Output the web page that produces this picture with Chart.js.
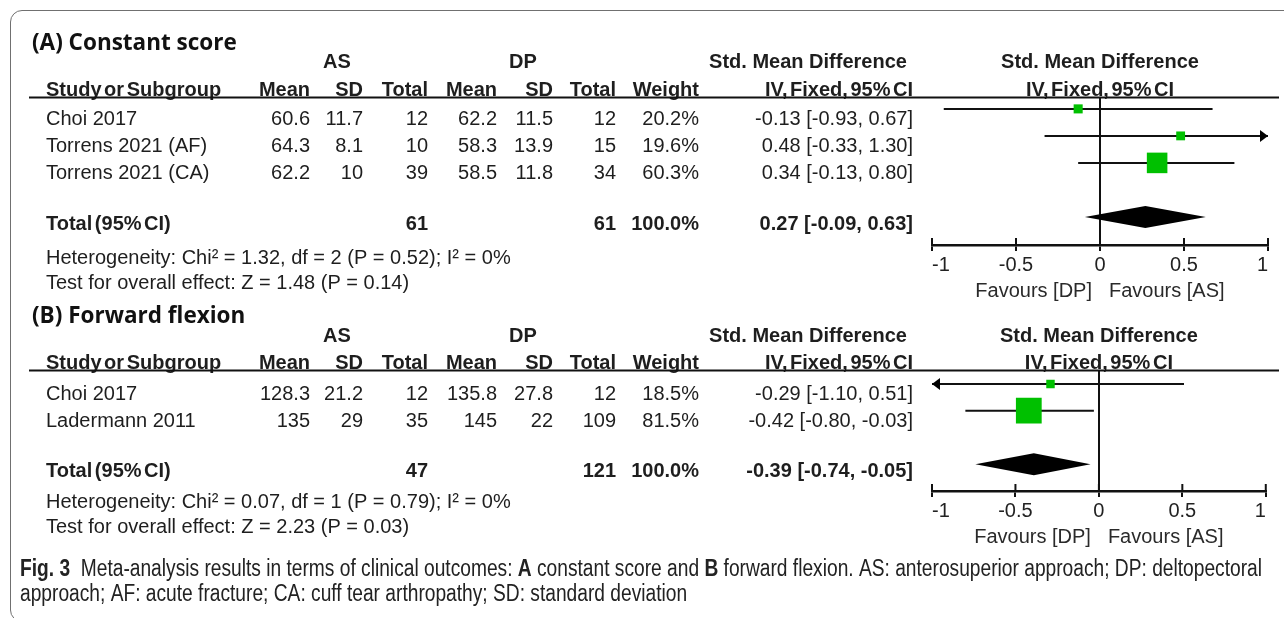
<!DOCTYPE html>
<html>
<head>
<meta charset="utf-8">
<title>Forest plots: constant score and forward flexion</title>
<script src="https://cdn.jsdelivr.net/npm/chart.js@4.4.1/dist/chart.umd.min.js"></script>
<style>
  html, body { margin: 0; padding: 0; background: #ffffff; }
  body { width: 1284px; height: 618px; position: relative; overflow: hidden; }
  #frame {
    position: absolute; left: 10px; top: 10px; width: 1330px; height: 612px;
    border: 1.5px solid #707070; border-radius: 12px; box-sizing: border-box;
  }
  canvas { position: absolute; left: 0; }
  #plotA { top: 0; }
  #plotB { top: 305px; }
</style>
</head>
<body>
<div id="frame"></div>
<canvas id="plotA" width="1284" height="310"></canvas>
<canvas id="plotB" width="1284" height="313"></canvas>
<script>
// ---------- (A) Constant score ----------
const studiesA  = ['Choi 2017', 'Torrens 2021 (AF)', 'Torrens 2021 (CA)'];
const asMeanA   = [60.6, 64.3, 62.2];
const asSdA     = [11.7, 8.1, 10];
const asTotalA  = [12, 10, 39];
const dpMeanA   = [62.2, 58.3, 58.5];
const dpSdA     = [11.5, 13.9, 11.8];
const dpTotalA  = [12, 15, 34];
const weightA   = [20.2, 19.6, 60.3];
const smdA      = [-0.13, 0.48, 0.34];
const lowerA    = [-0.93, -0.33, -0.13];
const upperA    = [0.67, 1.30, 0.80];
const totalsA   = [61, 61, 100.0];       // AS total, DP total, weight %
const pooledA   = [0.27, -0.09, 0.63];   // estimate, lower, upper
const hetA      = 'Heterogeneity: Chi\u00B2 = 1.32, df = 2 (P = 0.52); I\u00B2 = 0%';
const testA     = 'Test for overall effect: Z = 1.48 (P = 0.14)';

// ---------- (B) Forward flexion ----------
const studiesB  = ['Choi 2017', 'Ladermann 2011'];
const asMeanB   = [128.3, 135];
const asSdB     = [21.2, 29];
const asTotalB  = [12, 35];
const dpMeanB   = [135.8, 145];
const dpSdB     = [27.8, 22];
const dpTotalB  = [12, 109];
const weightB   = [18.5, 81.5];
const smdB      = [-0.29, -0.42];
const lowerB    = [-1.10, -0.80];
const upperB    = [0.51, -0.03];
const totalsB   = [47, 121, 100.0];
const pooledB   = [-0.39, -0.74, -0.05];
const hetB      = 'Heterogeneity: Chi\u00B2 = 0.07, df = 1 (P = 0.79); I\u00B2 = 0%';
const testB     = 'Test for overall effect: Z = 2.23 (P = 0.03)';

// shared axis ticks
const smdTicks = [-1, -0.5, 0, 0.5, 1];

// caption text (bold flag per run)
const captionLine1 = [
  ['Fig. 3', true], ['  Meta-analysis results in terms of clinical outcomes: ', false],
  ['A', true], [' constant score and ', false], ['B', true],
  [' forward flexion. AS: anterosuperior approach; DP: deltopectoral', false]
];
const captionLine2 = [
  ['approach; AF: acute fracture; CA: cuff tear arthropathy; SD: standard deviation', false]
];

// ---------- styling ----------
const FAMILY = '"Liberation Sans", Arial, sans-serif';
const INK = '#1e1e1e';
const REG = '20px ' + FAMILY;
const BOLD = 'bold 20px ' + FAMILY;
const TITLE = 'bold 22.5px "Open Sans", "Liberation Sans", sans-serif';
const GREEN = '#00c000';

Chart.defaults.font.family = FAMILY;
Chart.defaults.color = '#222';

// right edges of the numeric columns, left edge of the study names
const cols = { name: 46, asMean: 310, asSd: 363, asTotal: 428, dpMean: 497, dpSd: 553,
               dpTotal: 616, weight: 699, ci: 913 };

function fmtCI(e, lo, hi) {
  return e.toFixed(2) + ' [' + lo.toFixed(2) + ', ' + hi.toFixed(2) + ']';
}

// layout of each panel (page coordinates)
const panelA = {
  canvas: 'plotA', top: 0, height: 310, plotTop: 97, plotBottom: 245, yMin: -0.44, yMax: 5.04,
  title: '(A) Constant score', titleY: 50, groupY: 68, headY: 96, ruleY: 97.5, hetY: 264, testY: 289,
  studies: studiesA, asMean: asMeanA, asSd: asSdA, asTotal: asTotalA, dpMean: dpMeanA, dpSd: dpSdA,
  dpTotal: dpTotalA, weight: weightA, smd: smdA, lower: lowerA, upper: upperA,
  totals: totalsA, pooled: pooledA, het: hetA, test: testA, caption: false
};
const panelB = {
  canvas: 'plotB', top: 305, height: 313, plotTop: 370, plotBottom: 491, yMin: -0.52, yMax: 4.0,
  title: '(B) Forward flexion', titleY: 323, groupY: 342, headY: 369, ruleY: 370.5, hetY: 508, testY: 533,
  studies: studiesB, asMean: asMeanB, asSd: asSdB, asTotal: asTotalB, dpMean: dpMeanB, dpSd: dpSdB,
  dpTotal: dpTotalB, weight: weightB, smd: smdB, lower: lowerB, upper: upperB,
  totals: totalsB, pooled: pooledB, het: hetB, test: testB, caption: true
};

// table text, pooled diamond, arrows, tick marks and axis labels
function forestDecor(p) {
  return {
    id: 'forestDecor',
    afterDatasetsDraw(chart) {
      const ctx = chart.ctx, X = chart.scales.x, Y = chart.scales.y;
      const xMin = X.min, xMax = X.max;
      ctx.save();
      ctx.fillStyle = '#000';
      // pooled estimate diamond
      const n = p.studies.length;
      const dy = Y.getPixelForValue(n + 1);
      const half = 11;
      ctx.beginPath();
      ctx.moveTo(X.getPixelForValue(p.pooled[1]), dy);
      ctx.lineTo(X.getPixelForValue(p.pooled[0]), dy - half);
      ctx.lineTo(X.getPixelForValue(p.pooled[2]), dy);
      ctx.lineTo(X.getPixelForValue(p.pooled[0]), dy + half);
      ctx.closePath();
      ctx.fill();
      // arrowheads where an interval runs off the axis
      p.studies.forEach((_, i) => {
        const y = Y.getPixelForValue(i);
        if (p.upper[i] > xMax) {
          const t = X.getPixelForValue(xMax);
          ctx.beginPath(); ctx.moveTo(t, y); ctx.lineTo(t - 8, y - 6); ctx.lineTo(t - 8, y + 6); ctx.closePath(); ctx.fill();
        }
        if (p.lower[i] < xMin) {
          const t = X.getPixelForValue(xMin);
          ctx.beginPath(); ctx.moveTo(t, y); ctx.lineTo(t + 8, y - 6); ctx.lineTo(t + 8, y + 6); ctx.closePath(); ctx.fill();
        }
      });
      ctx.restore();
    },
    afterDraw(chart) {
      const ctx = chart.ctx, X = chart.scales.x, Y = chart.scales.y;
      const oy = p.top;
      const put = (s, x, y, align, font, color) => {
        ctx.font = font; ctx.textAlign = align; ctx.textBaseline = 'alphabetic';
        ctx.fillStyle = color || INK; ctx.fillText(s, x, y);
      };
      ctx.save();
      // upper half of the axis tick marks
      const axisY = chart.chartArea.bottom;
      ctx.strokeStyle = '#111'; ctx.lineWidth = 2;
      X.ticks.forEach(t => {
        const px = X.getPixelForValue(t.value);
        ctx.beginPath(); ctx.moveTo(px, axisY - 7); ctx.lineTo(px, axisY); ctx.stroke();
      });
      // axis captions either side of zero
      const zero = X.getPixelForValue(0);
      put('Favours [DP]', zero - 8, axisY + 52, 'right', REG, '#2a2a2a');
      put('Favours [AS]', zero + 9, axisY + 52, 'left', REG, '#2a2a2a');

      // panel title and group headers
      put(p.title, 32, p.titleY - oy, 'left', TITLE, '#111');
      put('AS', 337, p.groupY - oy, 'center', BOLD);
      put('DP', 523, p.groupY - oy, 'center', BOLD);
      put('Std. Mean Difference', 808, p.groupY - oy, 'center', BOLD);
      put('Std. Mean Difference', zero, p.groupY - oy, 'center', BOLD);
      ctx.wordSpacing = '-3px';
      const hy = p.headY - oy;
      put('Study or Subgroup', cols.name, hy, 'left', BOLD);
      put('Mean', cols.asMean, hy, 'right', BOLD);
      put('SD', cols.asSd, hy, 'right', BOLD);
      put('Total', cols.asTotal, hy, 'right', BOLD);
      put('Mean', cols.dpMean, hy, 'right', BOLD);
      put('SD', cols.dpSd, hy, 'right', BOLD);
      put('Total', cols.dpTotal, hy, 'right', BOLD);
      put('Weight', cols.weight, hy, 'right', BOLD);
      put('IV, Fixed, 95% CI', cols.ci, hy, 'right', BOLD);
      put('IV, Fixed, 95% CI', zero, hy, 'center', BOLD);
      ctx.wordSpacing = '0px';
      // header rule
      ctx.strokeStyle = '#111'; ctx.lineWidth = 2;
      ctx.beginPath(); ctx.moveTo(29, p.ruleY - oy); ctx.lineTo(1279, p.ruleY - oy); ctx.stroke();

      // study rows
      p.studies.forEach((name, i) => {
        const y = Y.getPixelForValue(i) + 16.5;
        put(name, cols.name, y, 'left', REG);
        put(String(p.asMean[i]), cols.asMean, y, 'right', REG);
        put(String(p.asSd[i]), cols.asSd, y, 'right', REG);
        put(String(p.asTotal[i]), cols.asTotal, y, 'right', REG);
        put(String(p.dpMean[i]), cols.dpMean, y, 'right', REG);
        put(String(p.dpSd[i]), cols.dpSd, y, 'right', REG);
        put(String(p.dpTotal[i]), cols.dpTotal, y, 'right', REG);
        put(p.weight[i].toFixed(1) + '%', cols.weight, y, 'right', REG);
        put(fmtCI(p.smd[i], p.lower[i], p.upper[i]), cols.ci, y, 'right', REG);
      });
      // total row
      const n = p.studies.length;
      const ty = Y.getPixelForValue(n + 1) + 13;
      ctx.wordSpacing = '-3px';
      put('Total (95% CI)', cols.name, ty, 'left', BOLD);
      ctx.wordSpacing = '0px';
      put(String(p.totals[0]), cols.asTotal, ty, 'right', BOLD);
      put(String(p.totals[1]), cols.dpTotal, ty, 'right', BOLD);
      put(p.totals[2].toFixed(1) + '%', cols.weight, ty, 'right', BOLD);
      put(fmtCI(p.pooled[0], p.pooled[1], p.pooled[2]), cols.ci, ty, 'right', BOLD);
      put(p.het, cols.name, p.hetY - oy, 'left', REG);
      put(p.test, cols.name, p.testY - oy, 'left', REG);

      // figure caption
      if (p.caption) {
        const capFont = b => (b ? 'bold ' : '') + '23px ' + FAMILY;
        const widthOf = runs => runs.reduce((w, r) => { ctx.font = capFont(r[1]); return w + ctx.measureText(r[0]).width; }, 0);
        const sx = (1262 - 20) / widthOf(captionLine1);
        const drawLine = (runs, yPage) => {
          ctx.save();
          ctx.translate(20, yPage - oy);
          ctx.scale(sx, 1);
          let x = 0;
          runs.forEach(r => { put(r[0], x, 0, 'left', capFont(r[1]), '#222'); x += ctx.measureText(r[0]).width; });
          ctx.restore();
        };
        drawLine(captionLine1, 576);
        drawLine(captionLine2, 601);
      }
      ctx.restore();
    }
  };
}

function buildForest(p) {
  const xMin = smdTicks[0], xMax = smdTicks[smdTicks.length - 1];
  const whiskers = p.studies.map((_, i) => ({
    type: 'scatter', showLine: true, order: 2,
    data: [{ x: Math.max(p.lower[i], xMin), y: i }, { x: Math.min(p.upper[i], xMax), y: i }],
    borderColor: '#111', borderWidth: 2, pointRadius: 0
  }));
  const squares = {
    type: 'scatter', order: 1,
    data: p.smd.map((v, i) => ({ x: v, y: i })),
    pointStyle: 'rect',
    pointRadius: p.weight.map(w => 0.95 * Math.pow(w, 0.75) / Math.SQRT2),
    pointBackgroundColor: GREEN, pointBorderColor: GREEN, pointBorderWidth: 0
  };
  const axisH = (p.top + p.height) - p.plotBottom;
  return new Chart(document.getElementById(p.canvas), {
    type: 'scatter',
    data: { datasets: [...whiskers, squares] },
    options: {
      responsive: false, animation: false, events: [],
      layout: { padding: { top: p.plotTop - p.top, left: 932, right: 16, bottom: 0 } },
      plugins: { legend: { display: false }, tooltip: { enabled: false } },
      scales: {
        x: {
          type: 'linear', position: 'bottom', min: xMin, max: xMax,
          afterBuildTicks: s => { s.ticks = smdTicks.map(v => ({ value: v })); },
          afterFit: s => { s.height = axisH; },
          ticks: { callback: v => String(v), align: 'inner', padding: 2, autoSkip: false, maxRotation: 0,
                   font: { size: 20 }, color: '#222' },
          grid: { drawOnChartArea: true, drawTicks: true, tickLength: 6, tickColor: '#111', tickWidth: 2,
                  lineWidth: 2, color: c => (c.tick && c.tick.value === 0) ? '#111' : 'rgba(0,0,0,0)' },
          border: { display: true, color: '#111', width: 2.5 }
        },
        y: { type: 'linear', display: false, reverse: true, min: p.yMin, max: p.yMax }
      }
    },
    plugins: [forestDecor(p)]
  });
}

buildForest(panelA);
buildForest(panelB);
</script>
</body>
</html>
